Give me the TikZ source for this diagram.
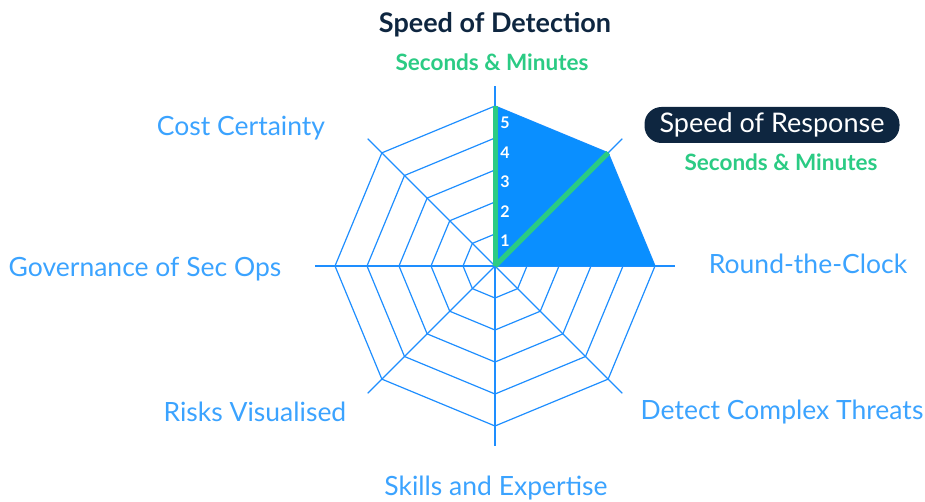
\documentclass[tikz,border=0pt]{standalone}
\usepackage{fontspec}
\setmainfont{Lato}
\definecolor{navy}{HTML}{0E2640}
\definecolor{mint}{HTML}{2BCB84}
\definecolor{areablue}{HTML}{0A8FFF}
\definecolor{gridblue}{HTML}{1E8EFF}
\definecolor{labelblue}{HTML}{3BA3FF}
\begin{document}
\begin{tikzpicture}[x=1pt,y=1pt,
  gridline/.style={draw=gridblue, line width=1.2pt, line join=miter},
  axislabel/.style={text=labelblue, font=\fontsize{26.5}{30}\selectfont, inner sep=0pt},
  headline/.style={text=navy, font=\fontsize{27}{31}\selectfont\bfseries, inner sep=0pt},
  subline/.style={text=mint, font=\fontsize{22.5}{26}\selectfont\bfseries, inner sep=0pt},
  tick/.style={text=white, font=\fontsize{16}{19}\selectfont\bfseries, inner sep=0pt},
  pill/.style={fill=navy, text=white, rounded corners=17pt, minimum height=36pt,
    minimum width=255pt, font=\fontsize{27}{31}\selectfont, inner sep=0pt},
  score/.style={draw=mint, line width=5pt}]
\useasboundingbox (0,0) rectangle (925,502);
\coordinate (c) at (495,236);
\begin{scope}[shift={(c)}]
  % concentric octagons, one per level
  \foreach \k in {1,...,5}
    \draw[gridline] (0:\k*32) \foreach \a in {45,90,...,315} { -- (\a:\k*32) } -- cycle;
  % spokes
  \foreach \a in {0,45,...,315}
    \draw[gridline] (0,0) -- (\a:180);
  % scored area
  \coordinate (top) at (90:160);
  \coordinate (ne) at (45:160);
  \coordinate (east) at (0:160);
  \fill[areablue] (0,0) -- (top) -- (ne) -- (east) -- cycle;
\end{scope}
\draw[score] (c) -- (top);
\draw[score] (c) -- (ne);
% scale numbers
\node[tick] (n5) at (505,379) {5};
\node[tick] (n4) at (505,349) {4};
\node[tick] (n3) at (505,320) {3};
\node[tick] (n2) at (505,290) {2};
\node[tick] (n1) at (505,261) {1};
% headings
\node[headline] (det) at (495,477) {Speed of Detection};
\node[subline] (detsub) at (492,440) {Seconds \& Minutes};
\node[pill] (resp) at (772,377) {Speed of Response};
\node[subline] (respsub) at (781,340) {Seconds \& Minutes};
% axis labels
\node[axislabel] (cost) at (241,374) {Cost Certainty};
\node[axislabel] (gov) at (145,233) {Governance of Sec Ops};
\node[axislabel] (clock) at (808,238) {Round-the-Clock};
\node[axislabel] (threat) at (782,90) {Detect Complex Threats};
\node[axislabel] (risk) at (255,90) {Risks Visualised};
\node[axislabel] (skill) at (496,14) {Skills and Expertise};
\end{tikzpicture}
\end{document}
